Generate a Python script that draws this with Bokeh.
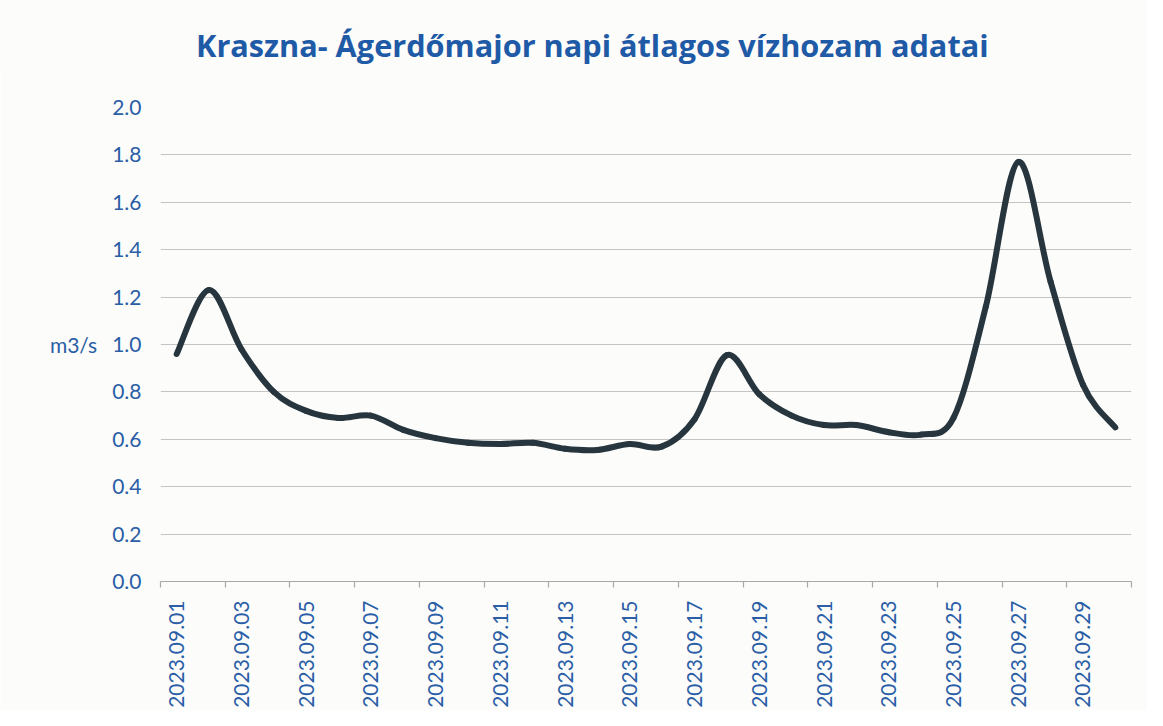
import math
from bokeh.plotting import figure
from bokeh.models import Range1d, FixedTicker, NumeralTickFormatter, Div
from bokeh.layouts import column
from bokeh.embed import file_html
from bokeh.resources import INLINE

# ---- data ----
dates = ["2023.09.%02d" % d for d in range(1, 31)]
flow = [0.96, 1.23, 0.98, 0.80, 0.72, 0.69, 0.70, 0.64, 0.605, 0.585,
        0.58, 0.585, 0.56, 0.555, 0.58, 0.57, 0.685, 0.955, 0.79, 0.70,
        0.66, 0.66, 0.63, 0.62, 0.69, 1.16, 1.77, 1.265, 0.83, 0.65]
y_ticks = [0.0, 0.2, 0.4, 0.6, 0.8, 1.0, 1.2, 1.4, 1.6, 1.8, 2.0]
title_text = "Kraszna- Ágerdőmajor napi átlagos vízhozam adatai"
unit_text = "m3/s"

BLUE = "#2A5EA6"
TITLE_BLUE = "#1F5AA6"
LINE = "#27363E"
FONT = "Lato"
BG = "#FCFCFB"

n = len(dates)
xs = [i + 0.5 for i in range(n)]  # category centres

TITLE_H = 70
title_div = Div(
    text=('<div style="box-sizing:border-box;height:%dpx;width:1147px;'
          'background:%s;font-family:\'Open Sans\';font-weight:bold;'
          'font-size:30.7px;line-height:42px;color:%s;padding-left:196px;'
          'padding-top:24px;white-space:nowrap;">%s</div>')
         % (TITLE_H, BG, TITLE_BLUE, title_text),
    width=1147, height=TITLE_H, margin=(0, 0, 0, 0))

p = figure(width=1147, height=710 - TITLE_H, output_backend="svg", toolbar_location=None,
           x_range=Range1d(0, n), y_range=Range1d(0, 2.0),
           min_border_left=160, min_border_right=16,
           min_border_top=107 - TITLE_H, min_border_bottom=124,
           margin=(0, 0, 0, 0))

p.background_fill_color = BG
p.border_fill_color = BG
p.outline_line_color = None

# grid
p.xgrid.visible = False
p.ygrid.grid_line_color = "#C4C4C4"
p.ygrid.grid_line_width = 1.2

# y axis
p.yaxis.ticker = FixedTicker(ticks=y_ticks)
p.yaxis.formatter = NumeralTickFormatter(format="0.0")
p.yaxis.axis_line_color = None
p.yaxis.major_tick_line_color = None
p.yaxis.major_tick_out = 0
p.yaxis.minor_tick_line_color = None
p.yaxis.major_label_standoff = 19
p.yaxis.major_label_text_font = FONT
p.yaxis.major_label_text_font_size = "21px"
p.yaxis.major_label_text_color = BLUE
p.yaxis.axis_label = unit_text
p.yaxis.axis_label_orientation = "horizontal"
p.yaxis.axis_label_standoff = 12
p.yaxis.axis_label_text_font = FONT
p.yaxis.axis_label_text_font_style = "normal"
p.yaxis.axis_label_text_font_size = "21px"
p.yaxis.axis_label_text_color = BLUE

# x axis: labels at category centres, tick marks (minor) between every 2 categories
label_pos = [xs[i] for i in range(0, n, 2)]
p.xaxis.ticker = FixedTicker(ticks=label_pos, minor_ticks=[i for i in range(0, n + 1, 2)])
p.xaxis.major_label_overrides = {xs[i]: dates[i] for i in range(0, n, 2)}
p.xaxis.axis_line_color = "#A8A8A8"
p.xaxis.axis_line_width = 1.2
p.xaxis.major_tick_line_color = None
p.xaxis.major_tick_out = 0
p.xaxis.major_tick_in = 0
p.xaxis.minor_tick_line_color = "#A8A8A8"
p.xaxis.minor_tick_line_width = 1.2
p.xaxis.minor_tick_out = 6
p.xaxis.minor_tick_in = 0
p.xaxis.major_label_orientation = math.pi / 2
p.xaxis.major_label_standoff = 13
p.xaxis.major_label_text_font = FONT
p.xaxis.major_label_text_font_size = "21px"
p.xaxis.major_label_text_color = BLUE

# smoothed line (Catmull-Rom as cubic bezier segments)
x0, y0, x1, y1, cx0, cy0, cx1, cy1 = [], [], [], [], [], [], [], []
for i in range(n - 1):
    pa = (xs[i - 1], flow[i - 1]) if i > 0 else (xs[i], flow[i])
    pb = (xs[i], flow[i])
    pc = (xs[i + 1], flow[i + 1])
    pd = (xs[i + 2], flow[i + 2]) if i + 2 < n else (xs[i + 1], flow[i + 1])
    x0.append(pb[0]); y0.append(pb[1])
    x1.append(pc[0]); y1.append(pc[1])
    cx0.append(pb[0] + (pc[0] - pa[0]) / 6); cy0.append(pb[1] + (pc[1] - pa[1]) / 6)
    cx1.append(pc[0] - (pd[0] - pb[0]) / 6); cy1.append(pc[1] - (pd[1] - pb[1]) / 6)

p.bezier(x0=x0, y0=y0, x1=x1, y1=y1, cx0=cx0, cy0=cy0, cx1=cx1, cy1=cy1,
         line_color=LINE, line_width=6, line_cap="round")

layout = column(title_div, p, spacing=0)
open("out.html", "w").write(file_html(layout, INLINE))
